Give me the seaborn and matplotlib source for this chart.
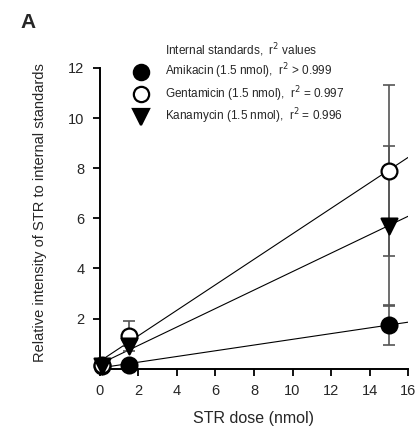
import numpy as np
import pandas as pd
import seaborn as sns
import matplotlib.pyplot as plt
from matplotlib.lines import Line2D

# data
dose = [0.12, 1.5, 15]
amikacin = [0.1, 0.15, 1.75]
amikacin_err = [0, 0, 0.8]
gentamicin = [0.15, 1.3, 7.9]
gentamicin_err = [0, 0.6, 3.4]
kanamycin = [0.1, 0.9, 5.7]
kanamycin_err = [0, 0, 3.2]
labels = ['Amikacin (1.5 nmol),  r$^2$ > 0.999',
          'Gentamicin (1.5 nmol),  r$^2$ = 0.997',
          'Kanamycin (1.5 nmol),  r$^2$ = 0.996']

sns.set_style('ticks')
plt.rcParams['font.family'] = ['Liberation Sans Narrow', 'Liberation Sans', 'DejaVu Sans']

fig = plt.figure(figsize=(4.16, 4.38), dpi=100)
ax = fig.add_axes([0.240, 0.158, 0.741, 0.687])

series = [
    (amikacin, amikacin_err, 'o', 'black'),
    (gentamicin, gentamicin_err, 'o', 'white'),
    (kanamycin, kanamycin_err, 'v', 'black'),
]

xs = np.array([0, 16])
handles = []
for (vals, err, mk, fc), lab in zip(series, labels):
    # regression line
    slope, icpt = np.polyfit(dose, vals, 1)
    ax.plot(xs, slope * xs + icpt, color='black', lw=0.8, zorder=2)
    ax.errorbar(dose, vals, yerr=err, fmt='none', ecolor='#555555',
                elinewidth=1.2, capsize=4, capthick=1.2, zorder=3, clip_on=False)
    df = pd.DataFrame({'dose': dose, 'val': vals})
    sns.scatterplot(data=df, x='dose', y='val', marker=mk, s=130, color=fc,
                    edgecolor='black', linewidth=1.6, ax=ax, zorder=4, clip_on=False)
    handles.append(Line2D([], [], marker=mk, ls='none', markersize=11,
                          markerfacecolor=fc, markeredgecolor='black',
                          markeredgewidth=1.6, label=lab))

ax.set_xlim(0, 16)
ax.set_ylim(0, 12)
ax.set_xticks(range(0, 17, 2))
ax.set_yticks(range(2, 13, 2))
ax.tick_params(labelsize=10.5, length=5, width=1.3, direction='out', color='black', pad=6)
for s in ['left', 'bottom']:
    ax.spines[s].set_linewidth(1.4)
    ax.spines[s].set_color('black')
sns.despine(ax=ax)

ax.set_xlabel('STR dose (nmol)', fontsize=11.5, labelpad=9)
ax.set_ylabel('Relative intensity of STR to internal standards', fontsize=10.5)
ax.yaxis.set_label_coords(-0.17, 0.52)

leg = ax.legend(handles=handles, loc='upper left', bbox_to_anchor=(0.075, 1.04),
                frameon=False, fontsize=8.5, handletextpad=1.1,
                labelspacing=0.25, borderpad=0)
fig.text(0.397, 0.885, 'Internal standards,  r$^2$ values', fontsize=8.5, va='center')

fig.text(0.05, 0.935, 'A', fontsize=15, fontweight='bold')

plt.savefig('out.png', dpi=100)
